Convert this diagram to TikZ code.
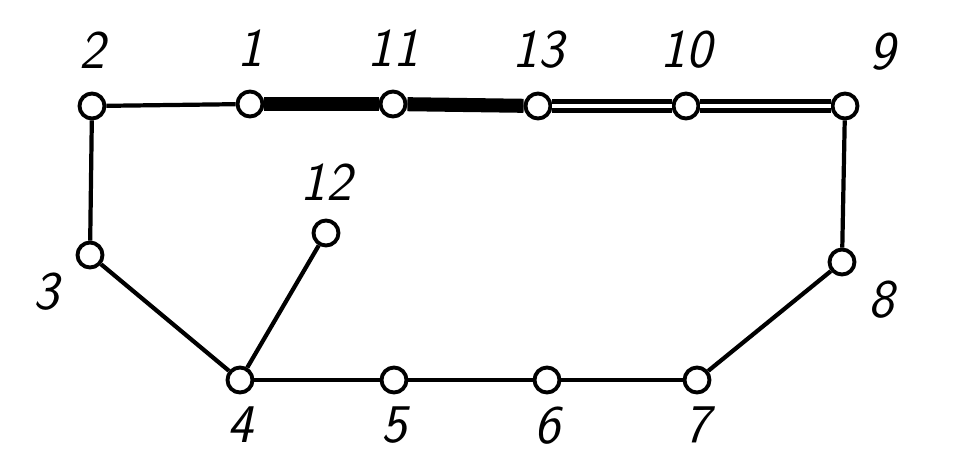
\documentclass[tikz,border=0pt]{standalone}
\usepackage{tikz}
\usetikzlibrary{positioning}

\tikzset{
  vtx/.style={circle,draw,fill=white,line width=2.2pt,inner sep=0pt,minimum size=0.5cm},
  lbl/.style={font=\fontsize{31}{33}\selectfont\sffamily\itshape,inner sep=0pt,label distance=13pt},
  thinline/.style={line width=2.4pt},
  heavy/.style={line width=8pt},
  twin/.style={double,double distance=2.4pt,line width=3pt}
}

\begin{document}
\begin{tikzpicture}[x=0.02cm,y=-0.02cm]
\useasboundingbox (0,0) rectangle (966,474);

\node[vtx,label={[lbl]above:2}] (v2) at (92,106) {};
\node[vtx,label={[lbl]above:1}] (v1) at (250,104) {};
\node[vtx,label={[lbl]above:11}] (v11) at (393,104) {};
\node[vtx,label={[lbl]above:13}] (v13) at (538,106) {};
\node[vtx,label={[lbl]above:10}] (v10) at (686,106) {};
\node[vtx,label={[lbl,label distance=16pt]55:9}] (v9) at (845,106) {};
\node[vtx,label={[lbl,label distance=12pt]210:3}] (v3) at (90,255) {};
\node[vtx,label={[lbl,label distance=10pt]above:12}] (v12) at (326,233) {};
\node[vtx,label={[lbl,label distance=7pt]below:4}] (v4) at (240,380) {};
\node[vtx,label={[lbl,label distance=7pt]below:5}] (v5) at (394,380) {};
\node[vtx,label={[lbl,label distance=7pt]below:6}] (v6) at (547,380) {};
\node[vtx,label={[lbl,label distance=7pt]below:7}] (v7) at (697,380) {};
\node[vtx,label={[lbl,label distance=10pt]-35:8}] (v8) at (842,262) {};

\path[thinline]	(v2)	edge	(v1)
			edge	(v3)
		(v3)	edge	(v4)
		(v4)	edge	(v12)
			edge	(v5)
		(v5)	edge	(v6)
		(v6)	edge	(v7)
		(v7)	edge	(v8)
		(v8)	edge	(v9);
\path[heavy]	(v1)	edge	(v11)
		(v11)	edge	(v13);
\path		(v13)	edge[twin]	(v10)
		(v10)	edge[twin]	(v9);
\end{tikzpicture}
\end{document}
